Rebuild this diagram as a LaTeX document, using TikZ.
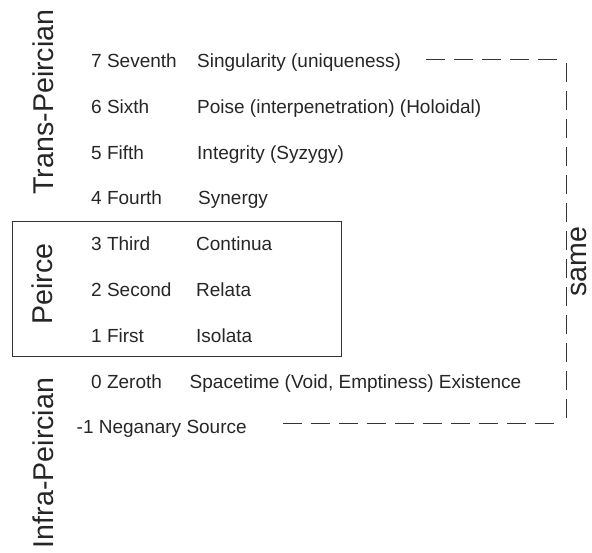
\documentclass[tikz,border=0pt]{standalone}
\usepackage{fontspec}
\setmainfont{Liberation Sans}
\begin{document}
\begin{tikzpicture}[x=1pt,y=-1pt,
  txt/.style={anchor=base west,inner sep=0pt,text=black!85,font=\fontsize{19}{22}\selectfont},
  biglabel/.style={rotate=90,anchor=base,inner sep=0pt,text=black!85,font=\fontsize{28.6}{34}\selectfont},
  framebox/.style={draw=black!80,line width=1pt},
  samebracket/.style={draw=black!80,line width=1pt,dash pattern=on 19pt off 9pt}]
\useasboundingbox (0,0) rectangle (592,552);

% level rows: number/ordinal and category
\node[txt] (r7a) at (91,67.5) {7 Seventh};
\node[txt] (r7b) at (197,67.5) {Singularity (uniqueness)};
\node[txt] (r6a) at (91,113.3) {6 Sixth};
\node[txt] (r6b) at (197,113.3) {Poise (interpenetration) (Holoidal)};
\node[txt] (r5a) at (91,159.1) {5 Fifth};
\node[txt] (r5b) at (197,159.1) {Integrity (Syzygy)};
\node[txt] (r4a) at (91,204.9) {4 Fourth};
\node[txt] (r4b) at (198,204.9) {Synergy};
\node[txt] (r3a) at (91,250.7) {3 Third};
\node[txt] (r3b) at (196,250.7) {Continua};
\node[txt] (r2a) at (91,296.5) {2 Second};
\node[txt] (r2b) at (196,296.5) {Relata};
\node[txt] (r1a) at (91,342.3) {1 First};
\node[txt] (r1b) at (196,342.3) {Isolata};
\node[txt] (r0a) at (91,388.1) {0 Zeroth};
\node[txt] (r0b) at (189.5,388.1) {Spacetime (Void, Emptiness) Existence};
\node[txt] (rm1) at (76.5,433.9) {-1 Neganary Source};

% group labels
\node[biglabel] (trans) at (53,102) {Trans-Peircian};
\node[biglabel] (peirce) at (52,284) {Peirce};
\node[biglabel] (infra) at (53,463) {Infra-Peircian};
\node[biglabel] (same) at (586,262) {same};

% frame around the Peircean levels
\draw[framebox] (12,221) rectangle (341,356.5);

% dashed bracket joining the top and bottom levels
\coordinate (brk) at (566,0);
\coordinate (topend) at ([xshift=25pt,yshift=8pt]r7b.base east);
\coordinate (botend) at ([xshift=36pt,yshift=10.5pt]rm1.base east);
\draw[samebracket] (topend) -- ([xshift=-6pt]topend -| brk);
\draw[samebracket] ([yshift=-3pt]topend -| brk) -- (botend -| brk);
\draw[samebracket] (botend) -- ([xshift=-10pt]botend -| brk);
\end{tikzpicture}
\end{document}
